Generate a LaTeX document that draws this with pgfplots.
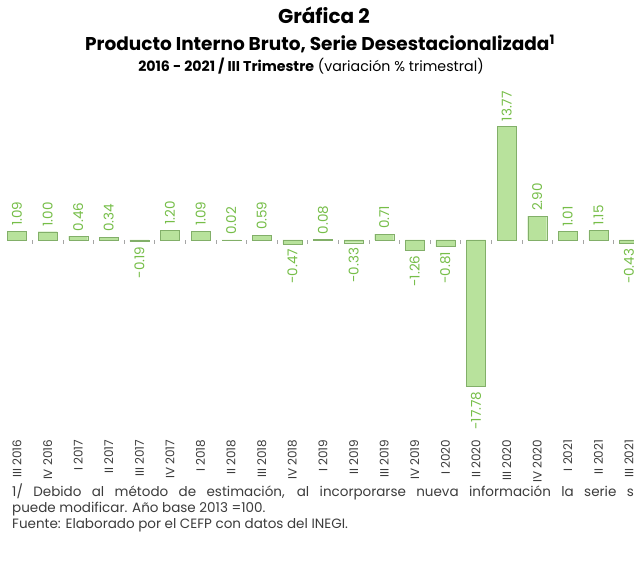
\documentclass[border=0pt]{standalone}
\usepackage{pgfplots}
\pgfplotsset{compat=1.18}
\usepackage{fontspec}
\setmainfont{Poppins}
\definecolor{barfill}{RGB}{184,226,156}
\definecolor{baredge}{RGB}{130,175,105}
\definecolor{labgreen}{RGB}{118,190,72}
\definecolor{txtgray}{RGB}{60,60,60}
\begin{document}
\begin{tikzpicture}
\path[use as bounding box, clip] (0pt,0pt) rectangle (634pt,565pt);
\fill[white] (0pt,0pt) rectangle (634pt,565pt);
\node[font=\bfseries\fontsize{20}{22}\selectfont, text=black] at (324pt,550pt) {Gráfica 2};
\node[font=\bfseries\fontsize{18.5}{20}\selectfont, text=black] at (320pt,521pt) {Producto Interno Bruto, Serie Desestacionalizada\textsuperscript{1}};
\node[font=\fontsize{14.2}{16}\selectfont, text=black] at (311pt,499pt) {\textbf{2016 - 2021 / III Trimestre} (variación \% trimestral)};
\node[font=\fontsize{13.5}{15}\selectfont, text=txtgray, anchor=base west, inner sep=0pt] at (12pt,69pt) {\makebox[630pt][s]{1/ Debido al método de estimación, al incorporarse nueva información la serie se}};
\node[font=\fontsize{13.5}{15}\selectfont, text=txtgray, anchor=base west, inner sep=0pt] at (12pt,53pt) {puede modificar. Año base 2013 =100.};
\node[font=\fontsize{13.5}{15}\selectfont, text=txtgray, anchor=base west, inner sep=0pt] at (12pt,37pt) {Fuente: Elaborado por el CEFP con datos del INEGI.};
\begin{axis}[
  at={(1.7pt,160pt)}, anchor=south west,
  scale only axis, width=642.6pt, height=297pt,
  xmin=-0.5, xmax=20.5, ymin=-20, ymax=16,
  axis x line=middle, axis y line=none,
  x axis line style={draw=none},
  hide obscured x ticks=false,
  xtick={0,...,20},
  xticklabels={III 2016,IV 2016,I 2017,II 2017,III 2017,IV 2017,I 2018,II 2018,III 2018,IV 2018,I 2019,II 2019,III 2019,IV 2019,I 2020,II 2020,III 2020,IV 2020,I 2021,II 2021,III 2021},
  major x tick style={draw=none},
  minor x tick num=1,
  minor tick length=4pt,
  tick align=outside,
  minor x tick style={gray!70, line width=0.8pt},
  xticklabel shift=192pt,
  xticklabel style={rotate=90, anchor=east, font=\fontsize{12}{14}\selectfont, text=txtgray},
  /pgf/number format/assume math mode=true,
  ybar, bar width=19pt,
]
\addplot[fill=barfill, draw=baredge, bar shift=0pt,
  nodes near coords={\pgfmathprintnumber[fixed,fixed zerofill,precision=2]{\pgfplotspointmeta}},
  every node near coord/.append style={rotate=90, anchor=west, text=labgreen, font=\fontsize{13.5}{15}\selectfont, inner sep=5pt}]
coordinates {(0,1.09) (1,1.00) (2,0.46) (3,0.34) (5,1.20) (6,1.09) (7,0.02) (8,0.59) (10,0.08) (12,0.71) (16,13.77) (17,2.90) (18,1.01) (19,1.15)};
\addplot[fill=barfill, draw=baredge, bar shift=0pt,
  nodes near coords={\pgfmathprintnumber[fixed,fixed zerofill,precision=2]{\pgfplotspointmeta}},
  every node near coord/.append style={rotate=90, anchor=east, text=labgreen, font=\fontsize{13.5}{15}\selectfont, inner sep=5pt}]
coordinates {(4,-0.19) (9,-0.47) (11,-0.33) (13,-1.26) (14,-0.81) (15,-17.78) (20,-0.43)};
\end{axis}
\end{tikzpicture}
\end{document}
